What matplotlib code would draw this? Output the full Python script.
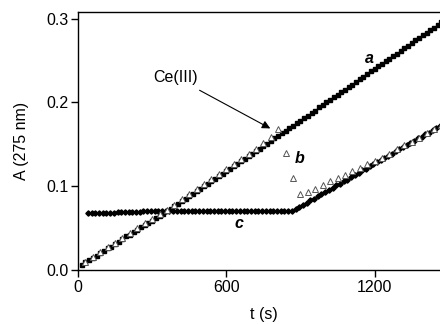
import numpy as np
import matplotlib
matplotlib.use("Agg")
import matplotlib.pyplot as plt

plt.rcParams['font.family'] = ['Liberation Sans', 'DejaVu Sans']

# Series a (filled squares)
t_a = np.arange(15, 1471, 15)
A_a = [0.006, 0.009, 0.012, 0.014, 0.017, 0.020, 0.023, 0.026, 0.028, 0.031,
       0.034, 0.037, 0.040, 0.042, 0.045, 0.048, 0.051, 0.054, 0.056, 0.059,
       0.062, 0.065, 0.067, 0.070, 0.073, 0.076, 0.079, 0.082, 0.085, 0.088,
       0.091, 0.094, 0.097, 0.100, 0.103, 0.106, 0.109, 0.112, 0.115, 0.118,
       0.121, 0.124, 0.127, 0.130, 0.133, 0.136, 0.139, 0.142, 0.145, 0.148,
       0.151, 0.154, 0.157, 0.160, 0.163, 0.166, 0.169, 0.172, 0.175, 0.178,
       0.181, 0.184, 0.187, 0.190, 0.194, 0.197, 0.200, 0.203, 0.206, 0.209,
       0.212, 0.215, 0.218, 0.221, 0.224, 0.228, 0.231, 0.234, 0.237, 0.240,
       0.243, 0.246, 0.249, 0.252, 0.255, 0.258, 0.262, 0.265, 0.268, 0.271,
       0.274, 0.277, 0.280, 0.283, 0.286, 0.289, 0.292, 0.296]

# Series b (open triangles)
t_b = np.arange(30, 1471, 30)
A_b = [0.010, 0.015, 0.021, 0.027, 0.032, 0.038, 0.044, 0.050, 0.056, 0.061,
       0.067, 0.072, 0.078, 0.085, 0.091, 0.097, 0.103, 0.109, 0.115, 0.121,
       0.127, 0.133, 0.139, 0.145, 0.152, 0.159, 0.168, 0.140, 0.110, 0.091,
       0.093, 0.097, 0.102, 0.106, 0.110, 0.114, 0.118, 0.122, 0.126, 0.130,
       0.134, 0.139, 0.144, 0.149, 0.153, 0.158, 0.163, 0.168, 0.173]

# Series c (filled diamonds)
t_c = np.arange(40, 1466, 15)
A_c = [0.068, 0.068, 0.068, 0.068, 0.068, 0.068, 0.068, 0.068, 0.069, 0.069,
       0.069, 0.069, 0.069, 0.069, 0.069, 0.070, 0.070, 0.070, 0.070, 0.070,
       0.071, 0.071, 0.071, 0.071, 0.071, 0.071, 0.070, 0.070, 0.070, 0.071,
       0.071, 0.070, 0.070, 0.070, 0.070, 0.070, 0.070, 0.070, 0.070, 0.070,
       0.070, 0.070, 0.070, 0.070, 0.070, 0.070, 0.070, 0.070, 0.070, 0.070,
       0.070, 0.070, 0.070, 0.070, 0.070, 0.071,
       0.073, 0.075, 0.078, 0.080, 0.083, 0.085, 0.088, 0.091, 0.093, 0.096,
       0.098, 0.101, 0.103, 0.106, 0.108, 0.111, 0.114, 0.116, 0.119, 0.121,
       0.124, 0.126, 0.129, 0.131, 0.134, 0.136, 0.139, 0.142, 0.144, 0.147,
       0.149, 0.152, 0.154, 0.157, 0.159, 0.162, 0.164, 0.167, 0.170, 0.172]
A_c = A_c[:len(t_c)]

x_ticks = [0, 600, 1200]
y_ticks = [0.0, 0.1, 0.2, 0.3]
y_ticklabels = ["0.0", "0.1", "0.2", "0.3"]

fig = plt.figure(figsize=(4.4, 3.24), dpi=100)
ax = fig.add_axes([78/440, 54/324, (1500*148.3/600)/440, 258/324])

ax.plot(t_a, A_a, linestyle='none', marker='s', ms=2.2, color='black', zorder=3)
ax.plot(t_c, A_c, linestyle='none', marker='D', ms=2.7, color='black', zorder=3)
ax.plot(t_b, A_b, linestyle='none', marker='^', ms=5, mfc='white', mec='#555555', mew=0.7, zorder=4)

ax.set_xlim(0, 1500)
ax.set_ylim(0, 0.308)
ax.set_xticks(x_ticks)
ax.set_xticklabels([str(v) for v in x_ticks])
ax.set_yticks(y_ticks)
ax.set_yticklabels(y_ticklabels)
ax.tick_params(direction='out', length=5, width=1, labelsize=11.5, pad=2)
for s in ax.spines.values():
    s.set_linewidth(1.0)
ax.spines['right'].set_visible(False)

ax.set_xlabel("t (s)", fontsize=11.5, labelpad=9)
ax.set_ylabel("A (275 nm)", fontsize=11.5, labelpad=12)

ax.text(1180, 0.253, "a", fontsize=11.5, fontweight='bold', fontstyle='italic', ha='center', va='center')
ax.text(895, 0.133, "b", fontsize=11.5, fontweight='bold', fontstyle='italic', ha='center', va='center')
ax.text(650, 0.055, "c", fontsize=11.5, fontweight='bold', fontstyle='italic', ha='center', va='center')
ax.annotate("Ce(III)", xy=(778, 0.169), xytext=(395, 0.230), fontsize=11.5,
            ha='center', va='center',
            arrowprops=dict(arrowstyle='-|>', color='black', lw=0.8,
                            mutation_scale=12, shrinkA=4, shrinkB=0))

fig.savefig("out.png", dpi=100)
